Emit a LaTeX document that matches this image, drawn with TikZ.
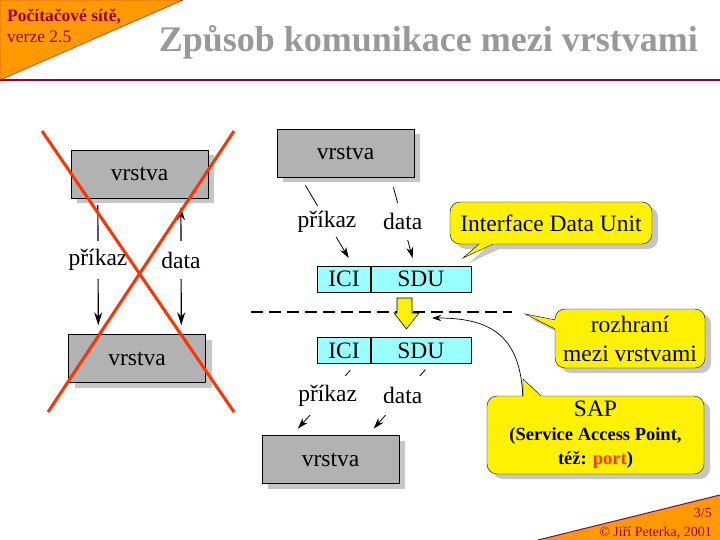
\documentclass[tikz,border=0pt]{standalone}
\usepackage{fontspec}
\setmainfont{Liberation Serif}
\usepackage{tikz}
\usetikzlibrary{arrows.meta,positioning,shadows,calc,backgrounds}

\definecolor{hlava}{HTML}{990033}
\definecolor{oranz}{HTML}{FF9900}
\definecolor{seda}{HTML}{B2B2B2}
\definecolor{tyrkys}{HTML}{99FFFF}
\definecolor{krizek}{HTML}{FF3300}
\definecolor{nadpis}{HTML}{999999}

\newcommand{\velky}{\fontsize{23.5}{29}\selectfont}
% ocasek bubliny: #1 bublina, #2 kotva, #3 spicka, #4 kotva
\newcommand{\ocas}[4]{%
  \begin{scope}[on background layer]
    \fill[gray!45] ([xshift=6pt,yshift=-5pt]#2) -- ([xshift=6pt,yshift=-5pt]#3) -- ([xshift=6pt,yshift=-5pt]#4) -- cycle;
  \end{scope}
  \fill[yellow] (#2) -- (#3) -- (#4) -- ($(#4)!3pt!(#1.center)$) -- ($(#2)!3pt!(#1.center)$) -- cycle;
  \draw (#2) -- (#3) -- (#4);
}

\begin{document}
\begin{tikzpicture}[x=1pt,y=-1pt,>={Stealth[length=13pt,width=8pt]}]
  \tikzstyle{vrstva}=[draw,fill=seda,minimum width=137pt,minimum height=48pt,inner sep=0pt,font=\velky,
    drop shadow={shadow xshift=6pt,shadow yshift=-5pt,fill=gray!45,opacity=1}]
  \tikzstyle{pole}=[draw,fill=tyrkys,minimum height=26pt,inner sep=0pt,font=\velky]
  \tikzstyle{popis}=[fill=white,inner xsep=1pt,font=\velky]
  \tikzstyle{bublina}=[draw,fill=yellow,rounded corners=10pt,align=center,inner sep=0pt,font=\velky,
    drop shadow={shadow xshift=6pt,shadow yshift=-5pt,fill=gray!45,opacity=1}]
  \tikzstyle{silna}=[line width=1.2pt]
  \tikzstyle{tenka}=[line width=0.8pt,-{Stealth[length=11pt,width=7pt]}]

  \useasboundingbox (0,0) rectangle (720,540);

  % hlavicka
  \filldraw[fill=oranz,draw=hlava] (0,0) -- (183,0) -- (0,80) -- cycle;
  \draw[hlava,line width=2pt] (0,80) -- (720,80);
  \node[anchor=base west,inner sep=0pt,text=hlava,font=\bfseries\fontsize{17.5}{20}\selectfont] (kurz) at (7,22) {Počítačové sítě,};
  \node[anchor=base west,inner sep=0pt,text=hlava,font=\fontsize{17.5}{20}\selectfont] (verze) at (7,43) {verze 2.5};
  \node[anchor=base east,inner sep=0pt,text=nadpis,font=\bfseries\fontsize{36}{40}\selectfont] (titul) at (698,52) {Způsob komunikace mezi vrstvami};

  % paticka
  \fill[oranz] (538,540) -- (720,495) -- (720,540) -- cycle;
  \draw[hlava,line width=1pt] (538,540) -- (720,495);
  \node[anchor=base east,inner sep=0pt,text=hlava,font=\fontsize{14}{16}\selectfont] (strana) at (712,517) {3/5};
  \node[anchor=base east,inner sep=0pt,text=hlava,font=\fontsize{14}{16}\selectfont] (autor) at (712,536) {© Jiří Peterka, 2001};

  % spatne: primo mezi vrstvami
  \node[vrstva] (horniL) at (139.5,174) {vrstva};
  \node[vrstva] (dolniL) at (137,358.5) {vrstva};
  \draw[silna,->,shorten <=7pt,shorten >=9pt] ([xshift=27pt]horniL.south west) -- node[popis,pos=0.456,inner ysep=8.4pt] {příkaz} ([xshift=30pt]dolniL.north west);
  \draw[silna,<->,shorten <=9pt,shorten >=9pt] ([xshift=110pt]horniL.south west) -- node[popis,pos=0.456,inner ysep=10.5pt] {data} ([xshift=113pt]dolniL.north west);

  % spravne: pres rozhrani
  \node[vrstva] (horniP) at (345.5,153.5) {vrstva};
  \node[pole,minimum width=53pt] (iciH) at (344,279) {ICI};
  \node[pole,minimum width=100pt,right=0pt of iciH] (sduH) {SDU};
  \node[pole,minimum width=53pt,below=45pt of iciH] (iciD) {ICI};
  \node[pole,minimum width=100pt,right=0pt of iciD] (sduD) {SDU};
  \node[vrstva] (dolniP) at (330.5,459.5) {vrstva};

  \draw[tenka,shorten <=9pt,shorten >=9pt] ([xshift=24pt]horniP.south west) -- node[popis,pos=0.5,inner ysep=4.9pt] {příkaz} ([xshift=36pt]iciH.north west);
  \draw[tenka,shorten <=10pt,shorten >=8pt] ([xshift=114pt]horniP.south west) -- node[popis,pos=0.5,inner ysep=10pt] {data} ([xshift=44pt]sduH.north west);
  \draw[tenka,shorten <=9pt,shorten >=9pt] ([xshift=39pt]iciD.south west) -- node[popis,pos=0.444,inner ysep=8.4pt] {příkaz} ([xshift=30pt]dolniP.north west);
  \draw[tenka,shorten <=8pt,shorten >=9pt] ([xshift=60pt]sduD.south west) -- node[popis,pos=0.444,inner ysep=11pt] {data} ([xshift=106pt]dolniP.north west);

  % rozhrani
  \coordinate (hranaL) at (251,312);
  \coordinate (hranaP) at (512,312);
  \coordinate (sapcil) at (432,318);
  \draw[line width=2pt,dash pattern=on 12pt off 6pt] (hranaL) -- (hranaP);
  \filldraw[fill=yellow,draw=black,line width=0.6pt] (397,298) -- (412,298) -- (412,313) -- (419,313) -- (406.5,329) -- (394,313) -- (397,313) -- cycle;

  % bubliny
  \node[bublina,minimum width=202pt,minimum height=42pt] (idu) at (551,223) {Interface Data Unit};
  \coordinate (iduA) at ([xshift=29pt]idu.south west);
  \coordinate (iduS) at (463,258);
  \coordinate (iduB) at ([xshift=43pt]idu.south west);
  \ocas{idu}{iduA}{iduS}{iduB}

  \node[bublina,minimum width=150pt,minimum height=59pt] (rozhrani) at (630,338.5) {rozhraní\\mezi vrstvami};
  \coordinate (rozA) at ([yshift=-11pt]rozhrani.north west);
  \coordinate (rozS) at (525,314);
  \coordinate (rozB) at ([yshift=-20pt]rozhrani.north west);
  \ocas{rozhrani}{rozA}{rozS}{rozB}

  \node[bublina,minimum width=217pt,minimum height=78pt,font=\bfseries\fontsize{18.5}{24}\selectfont] (sap) at (595.5,435)
    {{\mdseries\velky SAP}\\(Service Access Point,\\též: \textcolor{krizek}{port})};
  \coordinate (sapA) at ([xshift=36pt]sap.north west);
  \coordinate (sapS) at (523,379);
  \coordinate (sapB) at ([xshift=54pt]sap.north west);
  \ocas{sap}{sapA}{sapS}{sapB}
  \draw[line width=0.7pt,-{Stealth[length=9pt,width=6pt]}] (sapA) .. controls (520,335) and (490,318) .. (sapcil);

  % preskrtnuti
  \draw[krizek,line width=3pt] (42,131) -- (234,412);
  \draw[krizek,line width=3pt] (234,131) -- (48,412);
\end{tikzpicture}
\end{document}
